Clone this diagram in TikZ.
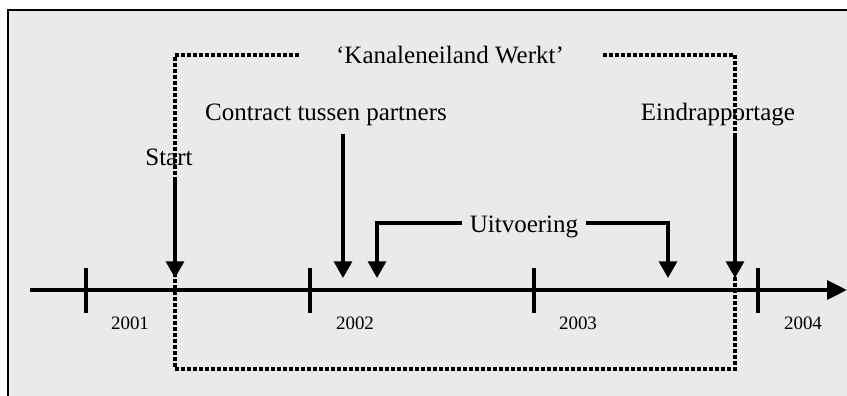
\documentclass[tikz,border=0pt]{standalone}
\usepackage{fontspec}
\setmainfont{Liberation Serif}
\usetikzlibrary{arrows.meta}
\definecolor{paneel}{HTML}{EAEAEA}
\begin{document}
\begin{tikzpicture}[x=0.75pt,y=-0.75pt,
  tekst/.style={font=\fontsize{18.75}{22}\selectfont, anchor=base, inner sep=6pt},
  jaar/.style={font=\fontsize{14.2}{16}\selectfont, anchor=base, inner sep=0pt},
  pijl/.style={line width=2.4pt, -{Triangle[width=13.5pt,length=12.5pt]}},
  as/.style={line width=3pt, -{Triangle[width=14pt,length=15pt]}},
  streep/.style={line width=2.6pt},
  stippel/.style={line width=2.6pt, dash pattern=on 2.5pt off 2pt}
]
% page area and grey panel
\clip (0,0) rectangle (847,396);
\fill[white] (0,0) rectangle (847,396);
\draw[fill=paneel, line width=0.9pt] (8,10) rectangle (900,450);

% anchor points
\coordinate (bl) at (175,369);
\coordinate (tr) at (735,55);
\coordinate (tl0) at (30,290);
\coordinate (tl1) at (847,290);
\coordinate (aStart) at (175,278);
\coordinate (aContract) at (343,278);
\coordinate (aUitL) at (377,278);
\coordinate (aUitR) at (668,278);
\coordinate (aEind) at (735,278);

% labels
\node[tekst, inner xsep=28pt] (titel) at (450,63) {‘Kanaleneiland Werkt’};
\node[tekst] (start) at (169,165) {Start};
\node[tekst] (contract) at (326,120) {Contract tussen partners};
\node[tekst] (eind) at (718,120) {Eindrapportage};
\node[tekst] (uit) at (524,232) {Uitvoering};

% project frame (dotted), interrupted by the title
\draw[stippel] (titel.west |- tr) -- (bl |- tr) -- (bl) -- (tr |- bl) -- (tr) -- (titel.east |- tr);

% time axis with year ticks
\draw[as] (tl0) -- (tl1);
\foreach \x in {86,310,534,758}
  \draw[streep] (\x,268) -- (\x,313);
\node[jaar] (j2001) at (130,329) {2001};
\node[jaar] (j2002) at (355,329) {2002};
\node[jaar] (j2003) at (578,329) {2003};
\node[jaar] (j2004) at (803,329) {2004};

% milestone arrows
\draw[pijl, shorten <=3pt] (start.south -| aStart) -- (aStart);
\draw[pijl] (contract.south -| aContract) -- (aContract);
\draw[pijl] (eind.south -| aEind) -- (aEind);
\draw[pijl] ([yshift=2.5pt]uit.west) -| (aUitL);
\draw[pijl] ([yshift=2.5pt]uit.east) -| (aUitR);
\end{tikzpicture}
\end{document}
